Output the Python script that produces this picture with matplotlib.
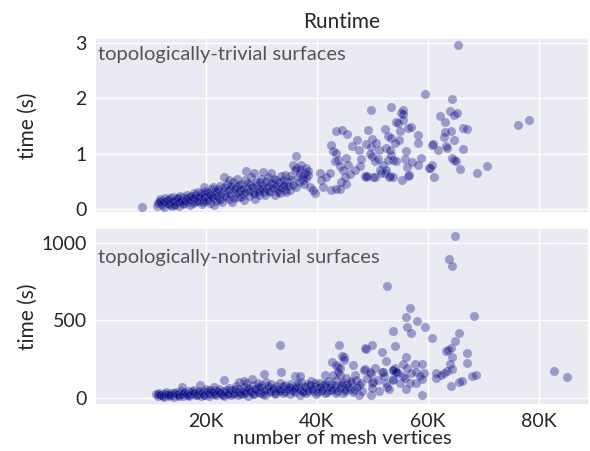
import numpy as np
import matplotlib
matplotlib.use("Agg")
import matplotlib.pyplot as plt
import seaborn as sns
from matplotlib.ticker import FuncFormatter

# vertices in thousands, time in seconds
trivial_x = [
    8.4, 11.2, 11.5, 11.8, 12.0, 12.1, 12.3, 12.5, 12.7, 13.0, 13.2, 13.5, 13.7, 13.9,
    14.0, 14.2, 14.4, 14.7, 15.0, 15.2, 15.4, 15.7, 15.9, 16.0, 16.2, 16.5, 16.7,
    17.0, 17.2, 17.5, 17.6, 17.8, 18.0, 18.2, 18.5, 18.8, 19.0, 19.2, 19.5, 19.6,
    19.6, 19.8, 20.0, 20.2, 20.5, 20.8, 21.0, 21.2, 21.3, 21.4, 21.5, 21.8, 22.0,
    22.3, 22.6, 22.9, 23.1, 23.3, 23.5, 23.8, 24.1, 24.1, 24.4, 24.7, 24.9, 25.2,
    25.4, 25.6, 25.8, 26.1, 26.4, 26.6, 26.8, 27.0, 27.2, 27.4, 27.7, 28.0, 28.2,
    28.5, 28.7, 28.8, 29.0, 29.3, 29.5, 29.7, 30.0, 30.3, 30.3, 30.6, 30.9, 31.2,
    31.5, 31.8, 32.1, 32.4, 32.7, 33.0, 33.3, 33.6, 33.9, 34.2, 34.2, 34.6, 35.1,
    35.4, 35.7, 36.2, 36.3, 36.3, 36.9, 37.2, 37.5, 37.8, 38.1, 38.4, 38.7, 39.3,
    39.6, 40.5, 40.8, 41.1, 41.7, 42.3, 42.6, 42.6, 42.9, 43.2, 43.4, 43.4, 43.5,
    43.8, 44.1, 44.1, 44.4, 44.5, 44.7, 45.0, 45.2, 45.3, 45.4, 45.6, 45.9, 46.4,
    46.8, 47.3, 47.5, 47.7, 48.0, 48.6, 48.8, 48.9, 49.0, 49.2, 49.5, 49.8, 49.8,
    50.0, 50.0, 50.1, 50.4, 50.4, 50.7, 51.0, 51.1, 51.3, 51.6, 51.9, 52.2, 52.2,
    52.4, 52.5, 52.8, 52.8, 53.0, 53.1, 53.1, 53.4, 53.4, 53.4, 53.7, 53.7, 54.0,
    54.3, 54.3, 54.6, 55.2, 55.3, 55.5, 55.5, 55.0, 54.8, 55.6, 56.0, 56.4, 56.5,
    55.8, 56.2, 57.0, 56.6, 57.2, 58.2, 58.3, 58.3, 58.8, 59.5, 60.2, 60.4, 60.7,
    60.8, 60.9, 61.1, 61.9, 62.2, 62.9, 63.1, 63.1, 63.2, 63.5, 64.0, 64.1, 64.3,
    64.4, 64.7, 64.7, 64.7, 65.0, 65.2, 65.5, 65.8, 66.3, 66.3, 67.1, 68.9, 70.7,
    76.3, 78.2,
]
trivial_y = [
    0.04, 0.06, 0.12, 0.18, 0.08, 0.11, 0.15, 0.04, 0.20, 0.10, 0.16, 0.07, 0.13, 0.05,
    0.21, 0.09, 0.16, 0.12, 0.19, 0.06, 0.24, 0.14, 0.22, 0.10, 0.18, 0.26, 0.13,
    0.21, 0.08, 0.16, 0.11, 0.28, 0.12, 0.20, 0.31, 0.15, 0.24, 0.09, 0.18, 0.27,
    0.39, 0.33, 0.14, 0.22, 0.28, 0.11, 0.36, 0.19, 0.39, 0.07, 0.25, 0.15, 0.30,
    0.20, 0.42, 0.12, 0.33, 0.57, 0.26, 0.45, 0.52, 0.18, 0.36, 0.13, 0.48, 0.29,
    0.40, 0.55, 0.22, 0.34, 0.46, 0.27, 0.16, 0.52, 0.69, 0.38, 0.24, 0.44, 0.58,
    0.31, 0.65, 0.18, 0.49, 0.36, 0.26, 0.34, 0.55, 0.67, 0.44, 0.25, 0.38, 0.58,
    0.30, 0.65, 0.46, 0.25, 0.52, 0.36, 0.28, 0.60, 0.42, 0.61, 0.34, 0.48, 0.34,
    0.52, 0.80, 0.96, 0.74, 0.40, 0.65, 0.80, 0.52, 0.65, 0.74, 0.61, 0.40, 0.34,
    0.28, 0.65, 0.52, 0.40, 0.58, 0.65, 1.16, 0.34, 1.04, 0.86, 1.41, 0.37, 1.01,
    0.89, 0.77, 0.37, 0.49, 1.43, 0.70, 0.58, 0.46, 0.92, 1.36, 0.80, 0.64, 1.13,
    0.70, 1.25, 1.07, 0.78, 0.90, 0.60, 1.18, 0.58, 0.60, 1.43, 1.00, 1.78, 1.12,
    1.27, 0.95, 0.58, 0.86, 0.57, 1.20, 0.90, 1.07, 0.70, 0.65, 0.80, 1.44, 0.65,
    1.10, 0.70, 1.31, 0.89, 0.58, 1.07, 0.60, 1.85, 1.28, 0.98, 0.89, 0.57, 1.19,
    1.58, 0.86, 1.56, 1.74, 0.52, 1.78, 1.71, 1.40, 1.25, 1.61, 1.05, 0.60, 1.46,
    0.90, 0.75, 1.48, 0.62, 0.85, 1.33, 1.19, 0.80, 0.92, 2.07, 0.74, 0.74, 1.15,
    0.80, 1.18, 0.57, 1.07, 1.68, 1.30, 1.57, 1.39, 1.13, 1.10, 1.77, 1.40, 1.99,
    0.92, 1.24, 1.69, 0.89, 0.86, 1.74, 2.97, 0.73, 1.46, 1.08, 1.45, 0.65, 0.77,
    1.51, 1.60,
]
# extra meshes inside the dense band of small models
trivial_band_x = [
    11.4, 11.7, 12.4, 12.9, 13.3, 13.6, 14.1, 14.5, 14.8, 15.1, 15.5, 15.8, 16.3,
    16.6, 16.9, 17.3, 17.7, 18.1, 18.4, 18.7, 19.1, 19.4, 19.7, 20.1, 20.4, 20.7,
    21.1, 21.6, 21.9, 22.2, 22.5, 22.8, 23.2, 23.6, 24.0, 24.3, 24.6, 25.0, 25.3,
    25.7, 26.0, 26.3, 26.7, 27.1, 27.5, 27.9, 28.3, 28.6, 29.1, 29.4, 29.8, 30.1,
    30.5, 30.8, 31.1, 31.4, 31.7, 32.0, 32.3, 32.6, 32.9, 33.2, 33.5, 33.8, 34.0,
    34.4, 34.8, 35.2, 35.6, 36.0, 36.5, 36.8, 37.0, 37.4, 37.7, 38.0, 38.3,
]
trivial_band_y = [
    0.10, 0.14, 0.12, 0.17, 0.09, 0.19, 0.14, 0.08, 0.20, 0.13, 0.17, 0.09, 0.14,
    0.20, 0.17, 0.24, 0.19, 0.25, 0.14, 0.22, 0.29, 0.13, 0.21, 0.30, 0.17, 0.25,
    0.22, 0.32, 0.24, 0.36, 0.16, 0.27, 0.40, 0.22, 0.34, 0.27, 0.42, 0.20, 0.37,
    0.30, 0.44, 0.21, 0.36, 0.30, 0.47, 0.33, 0.40, 0.27, 0.44, 0.31, 0.48, 0.38,
    0.30, 0.50, 0.42, 0.33, 0.47, 0.38, 0.55, 0.42, 0.31, 0.48, 0.38, 0.52, 0.44,
    0.30, 0.42, 0.60, 0.44, 0.70, 0.58, 0.48, 0.72, 0.60, 0.45, 0.56, 0.68,
]

nontrivial_x = [
    11.0, 11.3, 11.6, 11.9, 12.2, 12.5, 12.8, 13.1, 13.4, 13.7, 14.0, 14.3, 14.6,
    14.9, 15.2, 15.5, 15.7, 15.8, 16.1, 16.4, 16.7, 17.0, 17.3, 17.6, 17.9, 18.2,
    18.5, 18.8, 19.0, 19.1, 19.4, 19.7, 20.0, 20.3, 20.6, 20.9, 21.2, 21.4, 21.5,
    21.8, 22.1, 22.4, 22.7, 23.0, 23.3, 23.3, 23.6, 23.9, 24.2, 24.5, 24.8, 25.1,
    25.4, 25.7, 25.9, 26.0, 26.3, 26.6, 26.8, 26.9, 27.2, 27.3, 27.5, 27.8, 28.1,
    28.3, 28.4, 28.7, 29.0, 29.3, 29.4, 29.7, 30.0, 30.3, 30.5, 30.6, 30.9, 31.2,
    31.5, 31.8, 32.1, 32.4, 32.7, 33.0, 33.3, 33.3, 33.6, 33.6, 33.9, 34.2, 34.5,
    34.8, 35.1, 35.4, 35.7, 36.0, 36.0, 36.3, 36.6, 36.9, 36.9, 37.2, 37.5, 37.8,
    38.1, 38.4, 38.7, 39.0, 39.3, 39.6, 39.9, 40.2, 40.5, 40.8, 41.1, 41.4, 41.4,
    41.7, 42.0, 42.3, 42.6, 42.9, 43.2, 43.5, 43.5, 43.8, 44.1, 44.4, 44.7, 44.7,
    45.0, 45.3, 42.7, 43.5, 44.1, 43.8, 44.0, 44.9, 44.8, 44.5, 46.5, 46.9, 46.2,
    47.6, 47.6, 48.6, 48.8, 50.0, 48.6, 49.8, 50.0, 49.8, 51.8, 52.5, 51.8, 52.6,
    53.7, 54.0, 54.0, 54.6, 53.7, 54.9, 48.5, 50.4, 49.5, 51.9, 53.7, 54.3, 50.0,
    50.1, 52.5, 53.7, 52.7, 47.0, 48.0, 49.0, 51.0, 52.0, 53.0, 55.5, 46.0, 48.2,
    51.2, 45.5, 46.5, 56.1, 56.2, 57.0, 56.8, 58.1, 59.5, 60.8, 56.1, 55.6, 56.2,
    57.7, 59.0, 59.3, 59.0, 59.0, 57.0, 57.9, 57.9, 56.7, 54.3, 53.7, 55.8, 58.5,
    56.0, 61.4, 62.9, 61.4, 63.2, 63.7, 64.1, 64.9, 65.6, 64.3, 64.0, 64.3, 67.0,
    67.0, 65.6, 66.2, 64.2, 67.9, 68.6, 68.3, 64.9, 63.8, 64.4, 63.5, 62.3, 82.7,
    85.1,
]
nontrivial_y = [
    25, 12, 35, 18, 28, 8, 40, 20, 14, 32, 24, 10, 38,
    18, 28, 45, 74, 15, 33, 22, 50, 12, 36, 26, 55, 18,
    40, 30, 85, 14, 46, 24, 58, 35, 16, 42, 28, 75, 52,
    20, 38, 60, 25, 45, 117, 14, 55, 32, 68, 22, 48, 36,
    80, 18, 106, 58, 40, 28, 111, 72, 50, 96, 12, 62, 38,
    122, 84, 26, 55, 96, 70, 34, 88, 48, 156, 20, 107, 66,
    40, 90, 56, 28, 78, 45, 342, 100, 171, 62, 36, 85, 52,
    70, 30, 95, 58, 143, 40, 80, 64, 143, 24, 102, 50, 76,
    35, 90, 60, 112, 44, 80, 28, 66, 100, 50, 84, 147, 36,
    72, 110, 55, 90, 149, 65, 32, 120, 203, 149, 80, 32, 105,
    60, 130, 235, 213, 192, 171, 342, 267, 246, 271, 213, 149, 96,
    85, 21, 321, 314, 342, 186, 156, 96, 21, 299, 239, 171, 74,
    431, 335, 192, 160, 122, 96, 181, 192, 171, 171, 181, 171, 64,
    106, 96, 117, 722, 120, 100, 130, 115, 140, 60, 140, 60, 50,
    45, 90, 40, 523, 459, 417, 581, 497, 455, 388, 267, 220, 192,
    220, 220, 164, 122, 21, 160, 171, 96, 96, 169, 183, 130, 140,
    60, 164, 164, 128, 305, 310, 320, 369, 417, 263, 220, 188, 288,
    224, 106, 111, 81, 145, 149, 526, 1042, 893, 848, 177, 151, 175,
    135,
]
nontrivial_band_x = [
    11.4, 11.8, 12.3, 12.7, 13.2, 13.6, 14.2, 14.7, 15.1, 15.6, 16.0, 16.5, 16.9,
    17.4, 17.8, 18.3, 18.7, 19.2, 19.6, 20.1, 20.5, 20.8, 21.3, 21.7, 22.2, 22.6,
    23.1, 23.5, 24.0, 24.4, 24.9, 25.3, 25.8, 26.2, 26.7, 27.1, 27.6, 28.0, 28.5,
    28.9, 29.3, 29.8, 30.2, 30.7, 31.1, 31.6, 32.0, 32.5, 32.9, 33.4, 33.8, 34.3,
    34.7, 35.2, 35.6, 36.1, 36.5, 37.0, 37.4, 37.9, 38.3, 38.8, 39.2, 39.7, 40.1,
    40.6, 41.0, 41.5, 41.9, 42.4, 42.8, 43.3, 43.7, 44.2, 44.6, 45.1, 45.6, 46.1,
    46.6, 47.2,
]
nontrivial_band_y = [
    30, 22, 15, 30, 26, 18, 33, 25, 12, 30, 42, 28, 20,
    44, 32, 24, 50, 36, 20, 44, 30, 55, 38, 26, 48, 34,
    20, 40, 28, 52, 30, 62, 42, 26, 50, 36, 68, 48, 30,
    62, 40, 70, 30, 54, 82, 44, 68, 36, 60, 48, 76, 40,
    58, 74, 44, 66, 100, 54, 38, 70, 48, 84, 62, 96, 42,
    70, 54, 90, 40, 74, 52, 88, 46, 66, 94, 50, 72, 110,
    56, 75,
]

panels = [
    ("topologically-trivial surfaces", trivial_x + trivial_band_x,
     trivial_y + trivial_band_y, [0, 1, 2, 3], (-0.07, 3.09), 0.955),
    ("topologically-nontrivial surfaces", nontrivial_x + nontrivial_band_x,
     nontrivial_y + nontrivial_band_y, [0, 500, 1000], (-43, 1092), 0.885),
]

sns.set_theme(style="darkgrid")
plt.rcParams['font.family'] = ['Lato', 'DejaVu Sans']

fig = plt.figure(figsize=(5.9, 4.51), dpi=100)
ax_top = fig.add_axes([0.161, 0.528, 0.837, 0.388])
ax_bot = fig.add_axes([0.161, 0.102, 0.837, 0.392], sharex=ax_top)

for ax, (label, xs, ys, yticks, ylim, ty) in zip([ax_top, ax_bot], panels):
    ax.scatter(np.array(xs) * 1000, ys, s=44, color="navy", alpha=0.34,
               edgecolor="white", linewidth=0.3, zorder=3)
    ax.set_ylim(*ylim)
    ax.set_yticks(yticks)
    ax.set_ylabel("time (s)", fontsize=15)
    ax.yaxis.set_label_coords(-0.115, 0.5)
    ax.tick_params(axis="both", labelsize=14, pad=6, length=0)
    ax.text(0.006, ty, label, transform=ax.transAxes, fontsize=14.5,
            color="#555555", ha="left", va="top")

ax_top.set_xlim(0, 89000)
ax_top.set_xticks([20000, 40000, 60000, 80000])
ax_top.tick_params(axis="x", labelbottom=False)
ax_bot.xaxis.set_major_formatter(FuncFormatter(lambda v, p: "%dK" % (v / 1000)))
ax_bot.set_xlabel("number of mesh vertices", fontsize=14.5, labelpad=0)
ax_top.set_title("Runtime", fontsize=15, pad=7)

fig.savefig("out.png", dpi=100)
